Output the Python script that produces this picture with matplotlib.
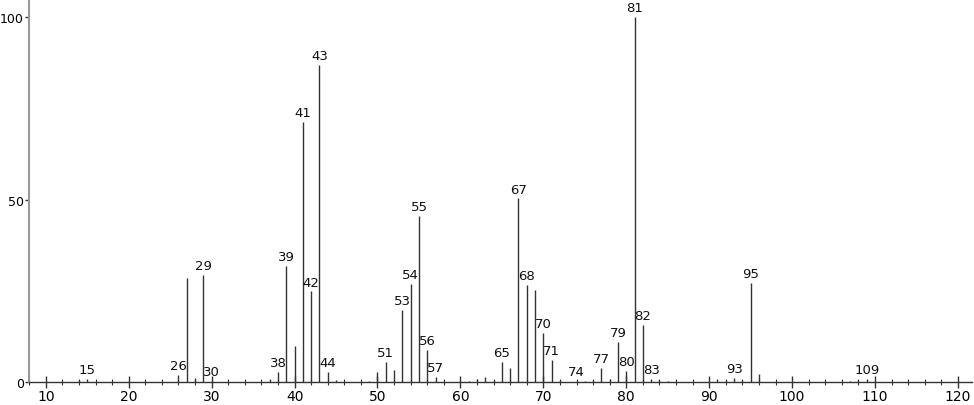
import matplotlib
matplotlib.use("Agg")
import matplotlib.pyplot as plt
from matplotlib.ticker import MultipleLocator

# m/z and relative intensity
mz = [14, 15, 26, 27, 28, 29, 30, 37, 38, 39, 40, 41, 42, 43, 44, 45,
      49, 50, 51, 52, 53, 54, 55, 56, 57, 61, 62, 63, 64, 65, 66, 67,
      68, 69, 70, 71, 72, 74, 75, 76, 77, 78, 79, 80, 81, 82, 83, 84,
      85, 91, 92, 93, 94, 95, 96, 107, 108, 109]
intensity = [0.6, 0.8, 1.9, 28.6, 1.0, 29.3, 0.3, 0.8, 2.6, 31.7, 9.7, 71.2, 24.8, 87.0, 2.8, 0.4,
             0.3, 2.8, 5.4, 3.3, 19.7, 26.8, 45.5, 8.8, 1.3, 0.3, 0.7, 1.4, 0.5, 5.4, 3.8, 50.3,
             26.6, 25.3, 13.3, 6.0, 0.4, 0.3, 0.3, 0.4, 3.8, 0.8, 11.0, 3.1, 100.0, 15.7, 0.8, 0.4,
             0.2, 0.8, 0.4, 1.0, 0.4, 27.0, 2.2, 0.3, 0.4, 0.9]
labelled = [15, 26, 29, 30, 38, 39, 41, 42, 43, 44, 51, 53, 54, 55, 56, 57,
            65, 67, 68, 70, 71, 74, 77, 79, 80, 81, 82, 83, 93, 95, 109]

fig = plt.figure(figsize=(9.74, 4.06), dpi=100)
ax = fig.add_axes([0.030, 0.057, 0.968, 0.943])

ax.vlines(mz, 0, intensity, color='#333333', lw=1.0)

peaks = dict(zip(mz, intensity))
for m in labelled:
    ax.text(m, peaks.get(m, 0) + 0.8, str(m), ha='center', va='bottom',
            fontsize=9.5, color='#111111')

ax.set_xlim(8, 121.7)
ax.set_ylim(0, 105)
ax.spines['top'].set_visible(False)
ax.spines['right'].set_visible(False)
ax.spines['left'].set_color('#999999')
ax.spines['left'].set_linewidth(1.5)
ax.spines['bottom'].set_color('#333333')
ax.spines['bottom'].set_linewidth(1.0)

ax.xaxis.set_major_locator(MultipleLocator(10))
ax.xaxis.set_minor_locator(MultipleLocator(2))
ax.set_yticks([0, 50, 100])
ax.tick_params(axis='x', which='major', direction='inout', length=8, width=1,
               color='#333333', labelsize=10, pad=1)
ax.tick_params(axis='x', which='minor', direction='inout', length=4, width=0.8,
               color='#333333')
ax.tick_params(axis='y', direction='out', length=3, width=1, color='#333333',
               labelsize=9, pad=1)

fig.savefig("out.png", dpi=100)
